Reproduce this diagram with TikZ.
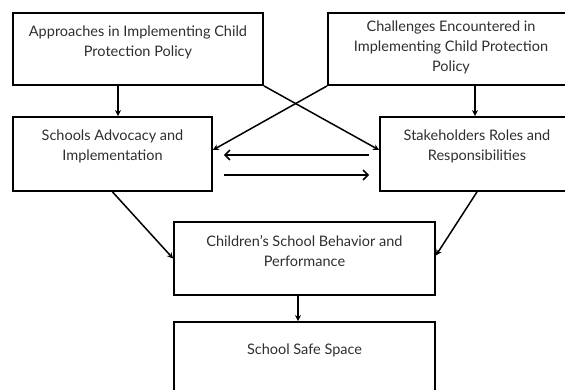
\documentclass[tikz,border=0pt]{standalone}
\usepackage{fontspec}
\setmainfont{Lato}
\usetikzlibrary{calc,arrows.meta}

\begin{document}
\begin{tikzpicture}[x=1pt,y=-1pt,
  box/.style={draw,rectangle,line width=1.8pt},
  lbl/.style={anchor=north,align=center,inner sep=0pt,text=black!82,font=\fontsize{14.5}{20}\selectfont},
  arr/.style={-{Stealth[length=6pt,width=6pt]},line width=1.5pt},
  barb/.style={-{Straight Barb[length=5pt,width=10pt]},line width=1.5pt}]
\useasboundingbox (0,0) rectangle (565,390);

% boxes
\draw node [box,minimum width=250pt,minimum height=72pt](appr) at (138,49){};
\draw node [box,minimum width=246pt,minimum height=72pt](chall) at (451,49){};
\draw node [box,minimum width=199pt,minimum height=74pt](schools) at (112.5,154){};
\draw node [box,minimum width=194pt,minimum height=74pt](stake) at (477,154){};
\draw node [box,minimum width=261pt,minimum height=73pt](perf) at (304.5,258.5){};
\draw node [box,minimum width=261pt,minimum height=78pt](safe) at (304.5,361){};

% texts
\draw node [lbl](appr-txt) at ($ (appr.north)+(0,14)$){Approaches in Implementing Child\\Protection Policy};
\draw node [lbl](chall-txt) at ($ (chall.north)+(0,9)$){Challenges Encountered in\\Implementing Child Protection\\Policy};
\draw node [lbl](schools-txt) at ($ (schools.north)+(0,14)$){Schools Advocacy and\\Implementation};
\draw node [lbl](stake-txt) at ($ (stake.north)+(0,14)$){Stakeholders Roles and\\Responsibilities};
\draw node [lbl](perf-txt) at ($ (perf.north)+(0,14)$){Children’s School Behavior and\\Performance};
\draw node [lbl](safe-txt) at ($ (safe.north)+(0,23)$){School Safe Space};

% arrows
\draw[arr] (appr.south -| 118,0) -- (schools.north -| 118,0);
\draw[arr] (chall.south -| 475,0) -- (stake.north -| 475,0);
\draw[arr] (appr.south east) -- ([yshift=4pt]stake.west);
\draw[arr] (chall.south west) -- ([yshift=4pt]schools.east);
\draw[barb] ([xshift=-10pt,yshift=-1pt]stake.west) -- ([xshift=11pt,yshift=-1pt]schools.east);
\draw[barb] ([xshift=11pt,yshift=-21pt]schools.east) -- ([xshift=-10pt,yshift=-21pt]stake.west);
\draw[arr] (schools.south) -- (perf.west);
\draw[arr] (stake.south) -- ([yshift=3pt]perf.east);
\draw[arr] (perf.south -| 298,0) -- (safe.north -| 298,0);

\end{tikzpicture}
\end{document}
